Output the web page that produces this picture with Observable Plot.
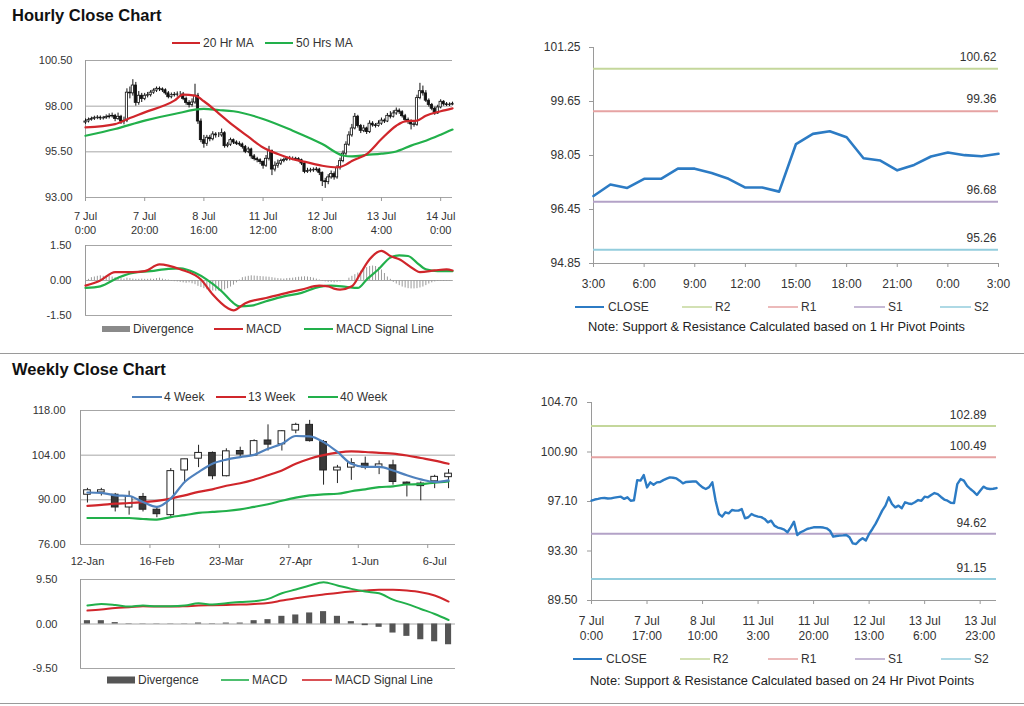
<!DOCTYPE html>
<html><head><meta charset="utf-8">
<script src="https://cdn.jsdelivr.net/npm/d3@7"></script>
<script src="https://cdn.jsdelivr.net/npm/@observablehq/plot@0.6"></script>
<style>
body{margin:0;background:#fff;font-family:"Liberation Sans",Arial,sans-serif;}
#root{position:relative;width:1024px;height:706px;overflow:hidden;background:#fff;}
.abs{position:absolute;}
.title{position:absolute;font-weight:bold;font-size:16.5px;color:#111;white-space:nowrap;}
.sep{position:absolute;left:0;width:1024px;height:1px;background:#9a9a9a;}
.lg{position:absolute;font-size:12px;color:#333;white-space:nowrap;display:flex;align-items:center;height:16px;}
.note{position:absolute;font-size:12.8px;color:#222;white-space:nowrap;}
</style></head><body><div id="root"></div>
<script>
// ---------------- DATA ----------------
const titles = ["Hourly Close Chart", "Weekly Close Chart"];

// Hourly candles (7 Jul 0:00 .. 14 Jul 4:00 trading hours, index 0..124)
const hourlyOpen0 = 97.10;
const hourlyClose = [
97.16,97.25,97.30,97.36,97.37,97.33,97.34,97.40,97.44,97.47,
97.30,97.42,97.16,97.20,98.74,98.70,99.13,98.18,98.57,98.39,
98.57,98.60,98.74,98.85,98.95,98.92,98.87,98.70,98.49,98.60,
98.62,98.64,98.64,98.40,98.18,98.06,98.20,98.57,97.16,96.14,
95.94,96.27,96.19,96.45,96.40,96.40,96.52,95.81,95.89,96.14,
96.01,95.94,95.90,95.76,95.50,95.63,95.25,95.10,95.04,94.94,
94.74,95.12,95.55,94.53,94.74,94.85,94.99,95.05,95.12,95.12,
95.12,95.10,95.04,94.86,94.40,94.45,94.48,94.50,94.53,94.35,
93.89,93.84,94.10,94.28,94.10,94.61,94.99,95.40,95.89,96.40,
96.78,97.42,96.91,96.65,96.78,96.58,97.04,96.95,96.91,97.04,
97.21,97.16,97.47,97.42,97.60,97.75,97.67,97.45,97.25,97.16,
97.00,96.98,98.44,98.82,98.70,98.30,98.06,97.86,97.60,97.93,
98.24,98.10,98.06,98.08,98.13];
const hourlyHigh = [
97.30,97.35,97.40,97.45,97.48,97.46,97.44,97.52,97.58,97.62,
97.55,97.62,97.50,97.40,98.95,99.05,99.45,99.30,98.80,98.70,
98.70,98.75,98.85,98.95,99.05,99.05,99.00,98.95,98.80,98.72,
98.75,98.78,98.80,98.75,98.50,98.30,98.40,99.20,98.70,97.30,
96.40,96.40,96.40,96.60,96.55,96.55,96.75,96.60,96.00,96.25,
96.20,96.10,96.05,95.98,95.85,95.75,95.70,95.35,95.20,95.12,
95.00,95.30,95.80,95.60,94.95,95.05,95.10,95.15,95.22,95.25,
95.22,95.20,95.18,95.10,94.92,94.60,94.60,94.62,94.65,94.60,
94.40,94.05,94.25,94.45,94.40,94.75,95.15,95.55,96.05,96.60,
97.00,97.60,97.50,97.00,96.95,96.85,97.20,97.15,97.05,97.20,
97.35,97.30,97.60,97.70,97.75,97.90,97.85,97.75,97.55,97.35,
97.25,97.15,98.60,99.25,99.10,98.85,98.40,98.15,97.95,98.05,
98.35,98.30,98.20,98.18,98.22];
const hourlyLow = [
97.00,97.08,97.18,97.22,97.26,97.22,97.24,97.28,97.30,97.35,
97.15,97.22,97.00,96.98,97.10,98.40,98.55,98.00,98.05,98.20,
98.30,98.45,98.50,98.65,98.75,98.80,98.75,98.60,98.40,98.40,
98.50,98.50,98.52,98.30,98.05,97.90,97.95,98.10,97.00,96.00,
95.70,95.80,96.05,96.10,96.25,96.28,96.30,95.70,95.72,95.80,
95.90,95.85,95.80,95.65,95.40,95.40,95.10,95.00,94.90,94.80,
94.55,94.65,95.00,94.20,94.40,94.60,94.75,94.90,94.98,95.00,
95.02,95.00,94.95,94.75,94.30,94.32,94.35,94.38,94.40,94.20,
93.60,93.50,93.70,94.00,93.95,94.00,94.50,94.90,95.30,95.80,
96.30,96.70,96.80,96.50,96.55,96.45,96.50,96.85,96.80,96.85,
96.95,97.05,97.10,97.30,97.35,97.50,97.55,97.35,97.15,97.00,
96.70,96.85,96.90,98.35,98.55,98.20,97.95,97.75,97.50,97.55,
97.85,98.00,97.98,97.98,98.02];

const ma20Hours  = [0,10,15,20,30,33,37,40,45,50,55,60,65,70,75,80,85,88,90,95,100,105,108,112,115,120,124];
const ma20Values = [96.84,97.02,97.35,97.66,98.30,98.63,98.58,98.27,97.61,96.93,96.33,95.74,95.38,95.10,94.92,94.74,94.65,94.80,95.00,95.38,96.20,96.93,97.17,97.21,97.48,97.72,97.88];
const ma50Hours  = [0,10,20,30,40,45,50,60,70,80,87,90,95,100,105,110,115,120,124];
const ma50Values = [96.38,96.75,97.21,97.57,97.85,97.79,97.72,97.30,96.66,95.93,95.30,95.25,95.33,95.40,95.52,95.84,96.11,96.44,96.72];

const hourlyTickIdx = [0,20,40,60,80,100,120];
const hourlyTickLabels = ["7 Jul\n0:00","7 Jul\n20:00","8 Jul\n16:00","11 Jul\n12:00","12 Jul\n8:00","13 Jul\n4:00","14 Jul\n0:00"];
const hourlyYTicks = [93, 95.5, 98, 100.5];
const hourlyMaNames = ["20 Hr MA", "50 Hrs MA"];

// Hourly MACD
const macdHours  = [0,5,10,16,20,25,32,39,43,48,50,54,61,67,73,79,82,84,86,90,93,96,100,103,106,111,113,118,122,124];
const macdValues = [-0.22,0.00,0.36,0.36,0.40,0.69,0.48,0.04,-0.60,-1.18,-1.28,-0.97,-0.75,-0.56,-0.39,-0.22,-0.25,-0.35,-0.39,-0.25,0.33,0.91,1.27,1.05,0.91,0.48,0.36,0.43,0.48,0.43];
const sigHours   = [0,5,11,16,22,28,32,37,41,46,50,52,56,61,67,73,79,83,88,92,95,99,103,106,109,112,115,119,124];
const sigValues  = [-0.32,-0.25,0.12,0.33,0.40,0.50,0.52,0.33,0.04,-0.46,-0.97,-1.11,-1.08,-0.89,-0.68,-0.53,-0.27,-0.22,-0.27,-0.32,0.04,0.48,0.98,1.08,1.05,0.76,0.48,0.40,0.40];
const hourlyDivergence = [
-0.08,0.05,0.12,0.15,0.18,0.20,0.18,0.19,0.17,0.15,
0.12,0.10,0.08,0.06,0.10,0.08,0.06,0.05,0.05,0.06,
0.05,0.05,0.06,0.05,0.08,0.10,0.06,0.03,0.02,-0.03,
-0.05,-0.06,-0.08,-0.10,-0.12,-0.10,-0.14,-0.18,-0.25,-0.30,
-0.35,-0.40,-0.42,-0.45,-0.46,-0.45,-0.43,-0.40,-0.35,-0.28,
-0.20,-0.10,0.02,0.12,0.15,0.18,0.20,0.19,0.18,0.17,
0.16,0.15,0.14,0.12,0.10,0.08,0.07,0.06,0.08,0.09,
0.10,0.12,0.14,0.15,0.16,0.15,0.13,0.10,0.06,0.02,
-0.04,-0.06,-0.08,-0.09,-0.10,-0.08,-0.06,-0.04,0.00,0.10,
0.18,0.25,0.32,0.40,0.48,0.55,0.60,0.62,0.60,0.55,
0.45,0.30,0.15,0.05,-0.08,-0.15,-0.22,-0.28,-0.32,-0.35,
-0.36,-0.36,-0.35,-0.32,-0.28,-0.22,-0.15,-0.10,-0.06,-0.04,
-0.03,-0.04,-0.03,-0.02,-0.03];
const macdYTicks = [-1.5, 0, 1.5];
const macdNames = ["Divergence", "MACD", "MACD Signal Line"];

// Hourly support / resistance (1 Hr pivots)
const srHourLabels = ["3:00","6:00","9:00","12:00","15:00","18:00","21:00","0:00","3:00"];
const srHourClose = [96.85,97.19,97.09,97.36,97.36,97.66,97.66,97.53,97.36,97.10,97.10,96.98,98.39,98.69,98.77,98.59,97.97,97.90,97.61,97.77,98.02,98.14,98.06,98.03,98.10];
const srHourYTicks = [94.85, 96.45, 98.05, 99.65, 101.25];
const pivotNames = ["R2","R1","S1","S2"];
const pivotColors = ["#c4d79b","#e6a3a3","#b3a2c7","#93cddd"];
const pivotHourly = [100.62, 99.36, 96.68, 95.26];
const noteHourly = "Note: Support & Resistance Calculated based on 1 Hr Pivot Points";

// Weekly candles
const weekLabels = ["12-Jan","19-Jan","26-Jan","2-Feb","9-Feb","16-Feb","23-Feb","2-Mar","9-Mar","16-Mar","23-Mar","30-Mar","6-Apr","13-Apr","20-Apr","27-Apr","4-May","11-May","18-May","25-May","1-Jun","8-Jun","15-Jun","22-Jun","29-Jun","6-Jul","13-Jul"];
const weekOpen  = [91.6,92.3,91.6,87.6,90.9,86.9,85.2,99.2,102.9,104.7,97.4,105.3,103.9,108.6,107.4,111.7,113.5,108.1,99.2,100.1,101.3,100.3,100.8,95.4,95.1,95.8,97.1];
const weekClose = [93.0,93.0,87.6,90.9,86.9,85.5,99.0,102.7,104.7,97.4,105.2,104.2,108.4,107.3,111.5,113.5,108.4,99.2,100.1,101.5,100.1,101.1,95.6,94.8,94.3,97.2,98.2];
const weekHigh  = [93.6,93.6,92.0,92.7,92.0,87.8,99.8,102.7,107.1,105.0,106.0,106.5,108.8,113.5,111.7,114.0,114.9,108.6,100.8,102.9,103.4,102.2,102.4,95.6,95.6,97.7,99.5];
const weekLow   = [89.0,91.2,86.2,85.2,86.2,84.4,84.6,95.6,100.1,96.3,97.2,103.2,103.6,105.3,105.3,110.7,108.1,94.6,95.1,96.1,99.4,97.9,94.6,90.9,89.7,93.5,93.5];
const week4  = [92.3,92.2,91.4,91.2,89.3,87.8,90.4,95.6,98.7,101.3,102.6,103.4,104.1,106.0,107.6,110.0,109.9,108.1,105.0,101.3,100.3,100.3,99.2,97.7,96.4,95.6,96.1];
const week13 = [88.1,88.4,88.8,89.0,89.3,89.7,90.4,91.4,92.5,93.3,94.4,95.2,96.3,97.7,99.2,101.3,102.9,104.0,104.8,105.2,105.0,104.7,104.5,103.9,103.1,102.3,101.3];
const week40 = [84.3,84.3,84.3,84.3,84.0,83.8,84.6,85.2,85.9,86.2,86.5,87.0,87.8,88.6,89.7,90.7,91.4,91.7,91.9,92.7,93.3,94.0,94.2,94.8,94.9,95.4,95.8];
const weekLabelIdx = [0,5,10,15,20,25];
const weekYTicks = [76, 90, 104, 118];
const weekMaNames = ["4 Week","13 Week","40 Week"];

// Weekly MACD
const weekMacd   = [3.93,4.29,4.07,3.71,3.93,3.79,3.79,3.93,4.43,4.14,4.43,4.71,4.86,5.36,6.57,7.36,8.21,8.93,8.21,7.50,6.93,6.57,5.21,4.29,3.21,2.14,0.86];
const weekSignal = [2.86,3.07,3.43,3.57,3.79,3.71,3.71,3.79,3.93,4.00,4.07,4.14,4.29,4.50,5.00,5.50,5.93,6.29,6.64,6.93,7.14,7.29,7.29,7.14,6.79,6.07,4.79];
const weekDiv    = [0.71,0.71,0.30,0.07,0.05,0.05,0.05,0.05,0.21,0.07,0.20,0.20,0.71,0.93,1.64,1.93,2.36,2.64,1.64,0.50,-0.36,-0.71,-1.93,-2.64,-3.36,-3.79,-4.43];
const weekMacdYTicks = [-9.5, 0, 9.5];

// Weekly-section support / resistance (24 Hr pivots) on hourly closes
const srDayTickIdx = [0,17,34,51,68,85,102,119];
const srDayTickLabels = ["7 Jul\n0:00","7 Jul\n17:00","8 Jul\n10:00","11 Jul\n3:00","11 Jul\n20:00","12 Jul\n13:00","13 Jul\n6:00","13 Jul\n23:00"];
const srDayYTicks = [89.5, 93.3, 97.1, 100.9, 104.7];
const pivotDaily = [102.89, 100.49, 94.62, 91.15];
const noteDaily = "Note:  Support & Resistance Calculated based on 24 Hr Pivot Points";

// ---------------- DRAWING ----------------
const root = document.getElementById("root");
const FONT = '"Liberation Sans", Arial, sans-serif';
const RED = "#d0262b", GREEN = "#22b04b", BLUE = "#4f81bd", CLOSEBLUE = "#2c7bc4", GRID = "#a6a6a6", AX = "#9a9a9a";
const styleL = {fontFamily: FONT, fontSize: "11px", color: "#333", background: "none", overflow: "visible"};
const styleR = {fontFamily: FONT, fontSize: "12px", color: "#333", background: "none", overflow: "visible"};

function place(node, left, top) {
  const d = document.createElement("div");
  d.className = "abs"; d.style.left = left + "px"; d.style.top = top + "px";
  d.appendChild(node); root.appendChild(d);
}
function addDiv(cls, text, left, top) {
  const d = document.createElement("div");
  d.className = cls; d.textContent = text;
  d.style.left = left + "px"; d.style.top = top + "px";
  root.appendChild(d);
}
function legend(items, yc) {
  items.forEach(it => {
    const el = document.createElement("div");
    el.className = "lg";
    el.style.left = it.x + "px"; el.style.top = (yc - 8) + "px";
    const sw = it.type === "box"
      ? `<svg width="${it.w}" height="16"><rect x="0" y="${8 - it.h / 2}" width="${it.w}" height="${it.h}" fill="${it.color}"/></svg>`
      : `<svg width="${it.w}" height="16"><line x1="0" x2="${it.w}" y1="8" y2="8" stroke="${it.color}" stroke-width="${it.sw || 2}"/></svg>`;
    el.innerHTML = sw;
    const s = document.createElement("span");
    s.style.marginLeft = (it.gap || 3) + "px";
    s.textContent = it.label;
    el.appendChild(s);
    root.appendChild(el);
  });
}

// Titles and separators
addDiv("title", titles[0], 12, 6);
addDiv("title", titles[1], 12, 360);
addDiv("sep", "", 0, 353);
addDiv("sep", "", 0, 703);

// ---- Panel A: hourly candles ----
const hCandles = hourlyClose.map((c, i) => ({i, o: i === 0 ? hourlyOpen0 : hourlyClose[i - 1], c, h: hourlyHigh[i], l: hourlyLow[i]}));
place(Plot.plot({
  width: 470, height: 200, marginLeft: 85, marginRight: 18, marginTop: 20, marginBottom: 43,
  x: {domain: [0, 124], axis: null, label: null}, y: {domain: [93, 100.5], axis: null, label: null},
  style: styleL,
  marks: [
    Plot.ruleY(hourlyYTicks, {stroke: GRID}),
    Plot.ruleX([0], {stroke: AX}),
    Plot.axisY(hourlyYTicks, {tickFormat: d => d.toFixed(2), tickSize: 0, tickPadding: 13, label: null}),
    Plot.axisX(hourlyTickIdx, {tickFormat: d => hourlyTickLabels[hourlyTickIdx.indexOf(d)], tickSize: 4, tickPadding: 8, stroke: AX, lineHeight: 1.3, label: null}),
    Plot.ruleX(hCandles, {x: "i", y1: "l", y2: "h", stroke: "#111", strokeWidth: 1}),
    Plot.rect(hCandles, {x1: d => d.i - 0.38, x2: d => d.i + 0.38, y1: "o", y2: "c", fill: d => d.c >= d.o ? "#fff" : "#111", stroke: "#111", strokeWidth: 0.8}),
    Plot.line(ma50Values, {x: ma50Hours, y: d => d, stroke: GREEN, strokeWidth: 2.2, curve: "monotone-x"}),
    Plot.line(ma20Values, {x: ma20Hours, y: d => d, stroke: RED, strokeWidth: 2.2, curve: "monotone-x"})
  ]
}), 0, 40);
legend([
  {x: 172, w: 28, color: RED, label: hourlyMaNames[0]},
  {x: 265, w: 28, color: GREEN, label: hourlyMaNames[1]}
], 43);

// ---- Panel B: hourly MACD ----
place(Plot.plot({
  width: 470, height: 90, marginLeft: 85, marginRight: 18, marginTop: 10, marginBottom: 10,
  x: {domain: [0, 124], axis: null, label: null}, y: {domain: [-1.5, 1.5], axis: null, label: null},
  style: styleL,
  marks: [
    Plot.ruleY(macdYTicks, {stroke: GRID}),
    Plot.ruleX([0], {stroke: AX}),
    Plot.axisY(macdYTicks, {tickFormat: d => d.toFixed(2), tickSize: 0, tickPadding: 14, label: null}),
    Plot.ruleX(hourlyDivergence, {x: (d, i) => i, y1: 0, y2: d => d, stroke: "#9a9a9a", strokeWidth: 1}),
    Plot.line(sigValues, {x: sigHours, y: d => d, stroke: GREEN, strokeWidth: 2.2, curve: "monotone-x"}),
    Plot.line(macdValues, {x: macdHours, y: d => d, stroke: RED, strokeWidth: 2.2, curve: "monotone-x"})
  ]
}), 0, 235);
legend([
  {x: 102, w: 28, type: "box", h: 6, color: "#8a8a8a", label: macdNames[0]},
  {x: 214, w: 29, color: RED, label: macdNames[1]},
  {x: 304, w: 29, color: GREEN, label: macdNames[2]}
], 329);

// ---- Panel C: hourly S/R ----
const pivH = pivotHourly.map((v, k) => ({v, name: pivotNames[k], color: pivotColors[k]}));
place(Plot.plot({
  width: 500, height: 275, marginLeft: 73, marginRight: 22, marginTop: 17, marginBottom: 42,
  x: {domain: [0, 24], axis: null, label: null}, y: {domain: [94.85, 101.25], axis: null, label: null},
  style: styleR,
  marks: [
    Plot.ruleX([0], {stroke: AX}),
    Plot.ruleY([94.85], {stroke: AX}),
    Plot.axisY(srHourYTicks, {tickFormat: d => d.toFixed(2), tickSize: 4, tickPadding: 9, stroke: AX, label: null}),
    Plot.axisX(d3.range(0, 25, 3), {tickFormat: d => srHourLabels[d / 3], tickSize: 4, tickPadding: 12, stroke: AX, label: null}),
    Plot.ruleY(pivH, {y: "v", stroke: "color", strokeWidth: 2}),
    Plot.text(pivH, {x: 24, y: "v", text: d => d.v.toFixed(2), textAnchor: "end", dy: -12, dx: -2, fill: "#333"}),
    Plot.line(srHourClose, {x: (d, i) => i, y: d => d, stroke: CLOSEBLUE, strokeWidth: 2.6})
  ]
}), 520, 30);
legend([
  {x: 575, w: 29, color: CLOSEBLUE, label: "CLOSE", gap: 4},
  {x: 682, w: 30, color: pivotColors[0], label: pivotNames[0], sw: 1.5},
  {x: 768, w: 30, color: pivotColors[1], label: pivotNames[1], sw: 1.5},
  {x: 854, w: 31, color: pivotColors[2], label: pivotNames[2], sw: 1.5},
  {x: 940, w: 31, color: pivotColors[3], label: pivotNames[3], sw: 1.5}
], 307);
addDiv("note", noteHourly, 588, 319);

// ---- Panel D: weekly candles ----
const wCandles = weekClose.map((c, i) => ({i, o: weekOpen[i], c, h: weekHigh[i], l: weekLow[i]}));
place(Plot.plot({
  width: 470, height: 185, marginLeft: 80, marginRight: 15, marginTop: 20, marginBottom: 31,
  x: {domain: [-0.5, 26.5], axis: null, label: null}, y: {domain: [76, 118], axis: null, label: null},
  style: styleL,
  marks: [
    Plot.ruleY(weekYTicks, {stroke: GRID}),
    Plot.ruleX([-0.5], {stroke: AX}),
    Plot.axisY(weekYTicks, {tickFormat: d => d.toFixed(2), tickSize: 0, tickPadding: 15, label: null}),
    Plot.axisX([4.5, 9.5, 14.5, 19.5, 24.5], {tickFormat: () => "", tickSize: 4, stroke: AX, label: null}),
    Plot.axisX(weekLabelIdx, {tickFormat: d => weekLabels[d], tickSize: 0, tickPadding: 13, label: null}),
    Plot.ruleX(wCandles, {x: "i", y1: "l", y2: "h", stroke: "#222", strokeWidth: 1}),
    Plot.rect(wCandles, {x1: d => d.i - 0.24, x2: d => d.i + 0.24, y1: "o", y2: "c", fill: d => d.c >= d.o ? "#fff" : "#3a3a3a", stroke: "#222", strokeWidth: 1}),
    Plot.line(week40, {x: (d, i) => i, y: d => d, stroke: GREEN, strokeWidth: 2.2, curve: "monotone-x"}),
    Plot.line(week13, {x: (d, i) => i, y: d => d, stroke: RED, strokeWidth: 2.2, curve: "monotone-x"}),
    Plot.line(week4, {x: (d, i) => i, y: d => d, stroke: BLUE, strokeWidth: 2.2, curve: "monotone-x"})
  ]
}), 0, 390);
legend([
  {x: 132, w: 30, color: BLUE, label: weekMaNames[0], gap: 2},
  {x: 216, w: 30, color: RED, label: weekMaNames[1], gap: 2},
  {x: 308, w: 30, color: GREEN, label: weekMaNames[2], gap: 2}
], 397);

// ---- Panel E: weekly MACD ----
place(Plot.plot({
  width: 470, height: 100, marginLeft: 80, marginRight: 15, marginTop: 9, marginBottom: 2,
  x: {domain: [-0.5, 26.5], axis: null, label: null}, y: {domain: [-9.5, 9.5], axis: null, label: null},
  style: styleL,
  marks: [
    Plot.ruleY(weekMacdYTicks, {stroke: GRID}),
    Plot.ruleX([-0.5], {stroke: AX}),
    Plot.axisY(weekMacdYTicks, {tickFormat: d => d.toFixed(2), tickSize: 0, tickPadding: 23, label: null}),
    Plot.rect(weekDiv, {x1: (d, i) => i - 0.22, x2: (d, i) => i + 0.22, y1: 0, y2: d => d, fill: "#555"}),
    Plot.line(weekSignal, {x: (d, i) => i, y: d => d, stroke: RED, strokeWidth: 2, curve: "monotone-x"}),
    Plot.line(weekMacd, {x: (d, i) => i, y: d => d, stroke: GREEN, strokeWidth: 2, curve: "monotone-x"})
  ]
}), 0, 570);
legend([
  {x: 107, w: 28, type: "box", h: 7, color: "#555", label: macdNames[0]},
  {x: 221, w: 28, color: GREEN, label: macdNames[1], sw: 1.6},
  {x: 302, w: 30, color: RED, label: macdNames[2], sw: 1.6}
], 680);

// ---- Panel F: 24 Hr S/R on hourly close ----
const pivD = pivotDaily.map((v, k) => ({v, name: pivotNames[k], color: pivotColors[k]}));
place(Plot.plot({
  width: 500, height: 260, marginLeft: 71, marginRight: 24, marginTop: 17, marginBottom: 45,
  x: {domain: [0, 124], axis: null, label: null}, y: {domain: [89.5, 104.7], axis: null, label: null},
  style: styleR,
  marks: [
    Plot.ruleX([0], {stroke: AX}),
    Plot.ruleY([89.5], {stroke: AX}),
    Plot.axisY(srDayYTicks, {tickFormat: d => d.toFixed(2), tickSize: 4, tickPadding: 10, stroke: AX, label: null}),
    Plot.axisX(srDayTickIdx, {tickFormat: d => srDayTickLabels[srDayTickIdx.indexOf(d)], tickSize: 4, tickPadding: 10, stroke: AX, lineHeight: 1.25, label: null}),
    Plot.ruleY(pivD, {y: "v", stroke: "color", strokeWidth: 2}),
    Plot.text(pivD, {x: 124, y: "v", text: d => d.v.toFixed(2), textAnchor: "end", dy: -11, dx: -10, fill: "#333"}),
    Plot.line(hourlyClose, {x: (d, i) => i, y: d => d, stroke: CLOSEBLUE, strokeWidth: 2.4})
  ]
}), 520, 385);
legend([
  {x: 573, w: 29, color: CLOSEBLUE, label: "CLOSE", gap: 4},
  {x: 680, w: 30, color: pivotColors[0], label: pivotNames[0], sw: 1.5},
  {x: 768, w: 30, color: pivotColors[1], label: pivotNames[1], sw: 1.5},
  {x: 855, w: 30, color: pivotColors[2], label: pivotNames[2], sw: 1.5},
  {x: 941, w: 30, color: pivotColors[3], label: pivotNames[3], sw: 1.5}
], 659);
addDiv("note", noteDaily, 590, 673);
</script></body></html>
